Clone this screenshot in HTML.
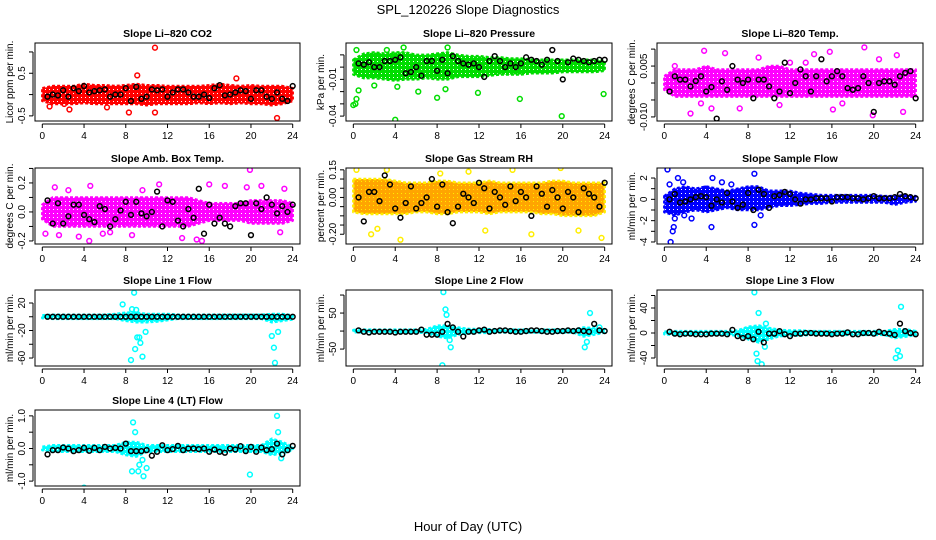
<!DOCTYPE html>
<html><head><meta charset="utf-8"><style>
html,body{margin:0;padding:0;background:#fff}
svg{display:block;font-family:"Liberation Sans",sans-serif}
</style></head><body>
<svg id="chart" width="936" height="540" viewBox="0 0 936 540">
<text x="468" y="14" font-size="13" text-anchor="middle">SPL_120226  Slope Diagnostics</text>
<text x="468" y="531" font-size="13" text-anchor="middle">Hour of Day (UTC)</text>
</svg>
<script>
// ---- data ----
const hours = [0,1,2,3,4,5,6,7,8,9,10,11,12,13,14,15,16,17,18,19,20,21,22,23,24];
const blackHours = [0.5,1,1.5,2,2.5,3,3.5,4,4.5,5,5.5,6,6.5,7,7.5,8,8.5,9,9.5,10,10.5,11,11.5,12,12.5,13,13.5,14,14.5,15,15.5,16,16.5,17,17.5,18,18.5,19,19.5,20,20.5,21,21.5,22,22.5,23,23.5,24];
const xTicks = [0,4,8,12,16,20,24];

const co2Upper = [0.15,0.2,0.2,0.2,0.25,0.22,0.22,0.2,0.22,0.25,0.22,0.22,0.2,0.2,0.2,0.2,0.22,0.25,0.22,0.2,0.22,0.2,0.2,0.2,0.15];
const co2Lower = [-0.15,-0.22,-0.22,-0.22,-0.2,-0.22,-0.22,-0.22,-0.22,-0.22,-0.25,-0.22,-0.22,-0.22,-0.22,-0.2,-0.22,-0.2,-0.22,-0.2,-0.22,-0.22,-0.25,-0.22,-0.15];
const co2Black = [-0.05,0,-0.02,0.1,-0.05,0.15,0.08,0.2,0.05,0.08,0.1,0.12,-0.05,0,0,0.15,-0.15,0.18,-0.1,-0.05,0.12,0.1,0.12,-0.05,0.05,0.12,0.12,0.05,-0.05,-0.05,0,-0.08,0.15,0.22,-0.02,0.0,0.05,0.1,0.08,-0.1,0.1,0.1,-0.05,-0.1,0.05,-0.1,-0.15,0.2];
const co2OutX = [10.8,9.1,18.6,22.5,0.7,2.6,8.3,10.8,6.2,2.1];
const co2OutY = [1.1,0.45,0.38,-0.55,-0.28,-0.35,-0.42,-0.42,-0.3,-0.22];

const presUpper = [0.006,0.011,0.012,0.011,0.012,0.012,0.01,0.01,0.011,0.012,0.01,0.009,0.009,0.008,0.008,0.007,0.007,0.006,0.006,0.006,0.006,0.006,0.006,0.006,0.005];
const presLower = [-0.006,-0.009,-0.009,-0.01,-0.011,-0.01,-0.01,-0.009,-0.01,-0.01,-0.008,-0.008,-0.008,-0.007,-0.006,-0.006,-0.006,-0.005,-0.005,-0.005,-0.004,-0.004,-0.004,-0.004,-0.003];
const presBlack = [0.003,0.002,0.004,0.0,0.0,0.005,0.005,0.006,0.008,-0.005,-0.004,0.0,-0.007,0.005,0.005,-0.003,0.006,-0.005,0.009,0.005,0.003,0.002,0.003,0.0,-0.008,0.005,0.009,0.005,0.0,0.003,0.0,0.003,0.008,0.006,0.005,0.002,0.006,0.014,0.005,-0.010,0.004,0.007,0.006,0.005,0.004,0.005,0.006,0.006];
const presOutX = [0,0.2,0.3,0.5,4,8,11.9,15.9,19.9,23.9,6.2,2,4.2,8.8,4.8,9,0.3,3.2];
const presOutY = [-0.031,-0.03,-0.026,-0.019,-0.043,-0.025,-0.021,-0.026,-0.040,-0.022,-0.020,-0.015,-0.016,-0.018,0.016,0.016,0.014,0.014];

const tempUpper = [0.002,0.004,0.004,0.004,0.005,0.004,0.004,0.004,0.004,0.004,0.005,0.005,0.004,0.004,0.004,0.004,0.004,0.004,0.004,0.004,0.004,0.004,0.004,0.004,0.004];
const tempLower = [-0.002,-0.004,-0.004,-0.004,-0.004,-0.004,-0.004,-0.004,-0.004,-0.004,-0.004,-0.004,-0.004,-0.004,-0.004,-0.004,-0.004,-0.004,-0.004,-0.004,-0.004,-0.004,-0.004,-0.004,-0.004];
const tempBlack = [-0.0025,0.002,0.001,0.001,-0.001,0.0006,0.002,-0.0025,-0.0012,-0.0105,0.0005,-0.002,0.005,0.001,0.0,0.001,-0.0045,0.001,0.001,-0.001,-0.0045,-0.0025,0.006,-0.003,0.0,0.004,0.002,-0.0025,0.002,0.007,0.0005,0.002,0.0035,0.002,-0.0015,-0.002,-0.0015,0.002,0.0,-0.0085,0.0,0.0005,0.0005,-0.0005,0.002,0.003,0.0035,-0.0045];
const tempOutX = [3.8,5.8,9,12,14.3,19.1,15.8,22.2,2.5,3.5,4.5,7.2,11,16.1,19.9,22.8,1,13.5,17,20.5];
const tempOutY = [0.0095,0.0088,0.0075,0.006,0.0085,0.0105,0.0092,0.0082,-0.009,-0.006,-0.0075,-0.0075,-0.0065,-0.0078,-0.0095,-0.0085,0.005,0.006,-0.006,0.007];

const boxUpper = [0.05,0.1,0.1,0.1,0.1,0.1,0.1,0.1,0.1,0.1,0.1,0.1,0.1,0.1,0.1,0.08,0.06,0.06,0.06,0.06,0.08,0.08,0.08,0.08,0.06];
const boxLower = [-0.05,-0.1,-0.1,-0.1,-0.1,-0.1,-0.1,-0.1,-0.1,-0.1,-0.1,-0.1,-0.1,-0.1,-0.1,-0.08,-0.06,-0.06,-0.06,-0.06,-0.08,-0.08,-0.08,-0.08,-0.06];
const boxBlack = [0.08,-0.08,0.06,-0.08,-0.03,0.05,0.05,-0.02,-0.05,-0.07,0.04,0.02,-0.1,-0.05,0.01,0.07,-0.02,0.07,-0.01,-0.03,0.0,0.14,-0.1,0.08,0.07,-0.06,-0.1,0.02,-0.04,0.16,-0.15,0.05,-0.08,-0.04,-0.08,-0.1,0.04,0.06,0.06,-0.16,0.06,0.02,0.1,0.05,-0.01,0.04,0.0,0.05];
const boxOutX = [0.3,1.2,1.6,2.5,3.5,4.6,5.8,6.5,8.6,11.2,13.4,14.8,15.3,16,17.5,19.6,19.9,21,22.8,23.2,4.5,9.6];
const boxOutY = [-0.15,0.17,-0.16,0.15,-0.17,0.18,-0.15,-0.14,-0.16,0.19,-0.18,-0.19,-0.2,0.19,0.18,0.17,0.29,0.18,-0.14,0.16,-0.2,0.15];

const rhUpper = [0.1,0.1,0.1,0.1,0.09,0.08,0.08,0.08,0.09,0.09,0.08,0.08,0.08,0.09,0.08,0.08,0.08,0.08,0.08,0.09,0.09,0.08,0.08,0.08,0.08];
const rhLower = [-0.08,-0.09,-0.09,-0.09,-0.09,-0.09,-0.08,-0.08,-0.09,-0.09,-0.08,-0.08,-0.08,-0.09,-0.08,-0.08,-0.08,-0.08,-0.09,-0.09,-0.1,-0.1,-0.1,-0.1,-0.08];
const rhBlack = [0.0,-0.13,0.03,0.03,-0.02,0.12,0.07,-0.06,-0.11,-0.03,0.06,-0.06,-0.03,0.0,0.1,-0.05,0.07,-0.08,-0.14,-0.05,0.02,0.0,-0.03,0.08,0.05,-0.06,0.03,0.0,-0.04,0.06,-0.02,0.03,0.0,-0.1,0.06,0.02,-0.05,0.04,0.0,-0.06,0.03,0.0,-0.08,0.05,0.02,0.0,-0.05,0.08];
const rhOutX = [0.3,1.7,2.3,4.5,3.2,8.3,11,12.6,15.2,17,19.8,21.5,23.7];
const rhOutY = [0.15,-0.2,-0.17,-0.23,0.15,0.13,0.14,-0.18,0.15,-0.2,0.16,-0.18,-0.22];

const sflowUpper = [0.3,1.0,1.2,1.0,1.2,1.0,0.8,1.0,1.2,1.2,0.8,0.8,0.8,0.6,0.5,0.4,0.4,0.4,0.4,0.4,0.4,0.3,0.3,0.4,0.3];
const sflowLower = [-1.2,-1.5,-1.2,-1.0,-1.2,-1.0,-0.8,-1.0,-1.0,-1.0,-0.8,-0.6,-0.6,-0.5,-0.4,-0.4,-0.3,-0.3,-0.3,-0.3,-0.3,-0.3,-0.5,-0.3,-0.2];
const sflowBlack = [0.0,0.5,-0.3,-0.2,0.0,0.2,0.3,0.2,-0.6,0.0,-0.3,0.6,-0.2,-0.8,-0.5,0.6,-1.0,0.9,0.5,-0.8,0.3,0.4,0.7,0.5,0.0,-0.4,0.0,0.0,0.1,0.1,0.1,-0.2,0.2,0.2,0.2,0.1,0.1,0.0,0.1,0.3,0.1,0.1,0.1,0.2,0.5,0.3,0.2,0.1];
const sflowOutX = [0.3,0.5,0.6,0.8,0.9,1.0,1.3,1.8,2.6,4.5,4.6,5.5,8.6,8.6,3.9,6.4,1.9,9.2];
const sflowOutY = [2.8,1.4,-4.0,-3.0,-2.6,-1.8,2.0,1.6,-1.8,-2.6,2.0,1.6,2.4,-2.4,1.0,1.4,-1.5,-1.5];

const l1Upper = [2,3,3,3,3,3,3,4,6,6,4,4,4,3,3,3,3,3,3,3,3,3,4,4,2];
const l1Lower = [-2,-3,-3,-3,-3,-3,-3,-3,-6,-8,-8,-7,-5,-3,-3,-3,-3,-3,-3,-3,-3,-3,-8,-6,-4];
const l1Black = [0,0,0,0,0,0,0,0,0,0,0,0,0,0,0,0,0,0,0,0,0,0,0,0,0,0,0,0,0,0,0,0,0,0,0,0,0,0,0,0,0,0,0,0,0,0,0,0];
const l1OutX = [8.8,7.7,8.5,8.9,9.1,9.4,9.6,8.6,9.3,9.0,9.9,22,22.2,22.3,22.6];
const l1OutY = [35,18,-63,-47,-30,-38,-58,11,-30,10,-22,-28,-45,-67,-22];

const l2Upper = [3,4,4,4,4,4,4,5,15,15,10,6,5,5,4,4,4,4,4,4,4,4,10,8,4];
const l2Lower = [-3,-4,-4,-4,-4,-4,-4,-5,-15,-20,-10,-6,-5,-5,-4,-4,-4,-4,-4,-4,-4,-4,-15,-10,-4];
const l2Black = [2,-2,-4,-2,-2,-2,-2,-4,-2,-2,-2,-2,4,-10,-10,-10,-2,20,10,-2,-15,-2,-2,2,4,-2,0,2,2,0,-2,-2,0,2,2,0,-2,-2,0,0,2,0,2,0,-2,20,2,0];
const l2OutX = [8.6,8.8,8.9,9.3,9.2,8.5,22.6,22.3,22.1,23.5];
const l2OutY = [108,60,45,-45,-25,-95,50,-30,-45,10];

const l3Upper = [2,3,3,3,3,3,3,4,10,12,8,5,4,4,3,3,3,3,3,3,3,3,6,6,3];
const l3Lower = [-2,-3,-3,-3,-3,-3,-3,-4,-10,-15,-10,-5,-4,-4,-3,-3,-3,-3,-3,-3,-3,-3,-8,-6,-3];
const l3Black = [2,-1,-2,-1,-1,-2,-2,-2,-1,-1,-1,-2,5,-5,-8,-5,-10,2,-15,-1,-1,3,-2,-5,-1,-1,0,0,-1,-1,-1,-2,-1,-1,1,-2,-2,0,0,-1,2,0,-1,-3,15,3,0,-2];
const l3OutX = [8.6,9.0,8.8,8.9,9.3,9.7,22.6,22.3,22.1,22.5,9.6];
const l3OutY = [65,32,-33,-45,-50,15,42,-28,-40,-37,-22];

const l4Upper = [0.05,0.1,0.1,0.1,0.1,0.1,0.1,0.1,0.2,0.2,0.1,0.1,0.1,0.1,0.1,0.1,0.1,0.1,0.1,0.1,0.1,0.1,0.3,0.2,0.05];
const l4Lower = [-0.05,-0.1,-0.1,-0.1,-0.1,-0.1,-0.1,-0.1,-0.2,-0.25,-0.1,-0.1,-0.1,-0.1,-0.1,-0.1,-0.1,-0.1,-0.1,-0.1,-0.1,-0.1,-0.2,-0.15,-0.05];
const l4Black = [-0.18,-0.05,-0.05,0.03,0.0,-0.08,-0.05,0.02,-0.07,0.02,-0.05,0.05,0.0,0.02,0.0,0.15,-0.08,-0.08,-0.08,-0.05,-0.22,-0.1,0.1,-0.05,-0.02,0.08,-0.05,0.0,0.0,-0.02,0.0,-0.1,-0.03,-0.1,-0.13,0.0,-0.03,0.07,-0.08,0.05,-0.1,0.03,-0.05,-0.02,0.15,-0.18,-0.05,0.08];
const l4OutX = [4,8.7,8.9,9.2,9.3,8.6,9.6,10,19.9,22.5,22.6,22.9,9.7];
const l4OutY = [-1.2,0.8,0.5,-0.7,-0.5,-0.7,-0.35,-0.6,-0.8,1.0,0.5,-0.3,-0.85];

// ---- layout ----
const panels = [
 {name:'co2',title:'Slope Li\u2013820 CO2',ylab:'Licor ppm per min.',x0:35,x1:300,y0:43,y1:121,ymin:-0.62,ymax:1.21,ticks:[-0.5,0,0.5,1.0],labels:['-0.5','','0.5',''],col:'#ff0000',up:co2Upper,lo:co2Lower,bk:co2Black,ox:co2OutX,oy:co2OutY},
 {name:'pressure',title:'Slope Li\u2013820 Pressure',ylab:'kPa per min.',x0:346,x1:612,y0:43,y1:121,ymin:-0.044,ymax:0.0197,ticks:[-0.04,-0.03,-0.02,-0.01,0,0.01],labels:['-0.04','','','-0.01','',''],col:'#00dd00',up:presUpper,lo:presLower,bk:presBlack,ox:presOutX,oy:presOutY},
 {name:'li820-temp',title:'Slope Li\u2013820 Temp.',ylab:'degrees C per min.',x0:657,x1:923,y0:43,y1:121,ymin:-0.0112,ymax:0.0118,ticks:[-0.01,-0.005,0,0.005,0.01],labels:['-0.010','','','0.005',''],col:'#ff00ff',up:tempUpper,lo:tempLower,bk:tempBlack,ox:tempOutX,oy:tempOutY},
 {name:'amb-box-temp',title:'Slope Amb. Box Temp.',ylab:'degrees C per min.',x0:35,x1:300,y0:168,y1:244,ymin:-0.221,ymax:0.303,ticks:[-0.2,-0.1,0,0.1,0.2,0.3],labels:['-0.2','','0.0','','0.2',''],col:'#ff00ff',up:boxUpper,lo:boxLower,bk:boxBlack,ox:boxOutX,oy:boxOutY},
 {name:'gas-stream-rh',title:'Slope Gas Stream RH',ylab:'percent per min.',x0:346,x1:612,y0:168,y1:244,ymin:-0.253,ymax:0.16,ticks:[-0.2,-0.15,-0.1,-0.05,0,0.05,0.1,0.15],labels:['-0.20','','','','0.00','','','0.15'],col:'#ffa500',stroke:'#ffee00',up:rhUpper,lo:rhLower,bk:rhBlack,ox:rhOutX,oy:rhOutY},
 {name:'sample-flow',title:'Slope Sample Flow',ylab:'ml/min per min.',x0:657,x1:923,y0:168,y1:244,ymin:-4.19,ymax:2.94,ticks:[-4,-3,-2,-1,0,1,2],labels:['-4','','-2','','0','','2'],col:'#0000ff',up:sflowUpper,lo:sflowLower,bk:sflowBlack,ox:sflowOutX,oy:sflowOutY},
 {name:'line1-flow',title:'Slope Line 1 Flow',ylab:'ml/min per min.',x0:35,x1:300,y0:290,y1:366,ymin:-71.6,ymax:38.9,ticks:[-60,-40,-20,0,20],labels:['-60','','-20','','20'],col:'#00ffff',up:l1Upper,lo:l1Lower,bk:l1Black,ox:l1OutX,oy:l1OutY},
 {name:'line2-flow',title:'Slope Line 2 Flow',ylab:'ml/min per min.',x0:346,x1:612,y0:290,y1:366,ymin:-97,ymax:114,ticks:[-100,-50,0,50,100],labels:['','-50','','50',''],col:'#00ffff',up:l2Upper,lo:l2Lower,bk:l2Black,ox:l2OutX,oy:l2OutY},
 {name:'line3-flow',title:'Slope Line 3 Flow',ylab:'ml/min per min.',x0:657,x1:923,y0:290,y1:366,ymin:-52.8,ymax:68.8,ticks:[-40,-20,0,20,40,60],labels:['-40','','0','','40',''],col:'#00ffff',up:l3Upper,lo:l3Lower,bk:l3Black,ox:l3OutX,oy:l3OutY},
 {name:'line4-flow',title:'Slope Line 4 (LT) Flow',ylab:'ml/min per min.',x0:35,x1:300,y0:410,y1:486,ymin:-1.15,ymax:1.18,ticks:[-1,-0.5,0,0.5,1],labels:['-1.0','','0.0','','1.0'],col:'#00ffff',up:l4Upper,lo:l4Lower,bk:l4Black,ox:l4OutX,oy:l4OutY}
];
const NS='http://www.w3.org/2000/svg';
const svg=document.getElementById('chart');
function mk(tag,attrs,parent){const e=document.createElementNS(NS,tag);for(const k in attrs)e.setAttribute(k,attrs[k]);(parent||svg).appendChild(e);return e;}
const defs=mk('defs',{});

panels.forEach(p=>{
  const g=mk('g',{});
  
  
  const xmin=-0.7,xmax=24.7;
  const sx=v=>p.x0+(v-xmin)/(xmax-xmin)*(p.x1-p.x0);
  const sy=v=>p.y1-(v-p.ymin)/(p.ymax-p.ymin)*(p.y1-p.y0);
  const clip='clip-'+p.name;
  const cp=mk('clipPath',{id:clip},defs);mk('rect',{x:p.x0,y:p.y0,width:p.x1-p.x0,height:p.y1-p.y0},cp);
  const pat=mk('pattern',{id:'pat-'+p.name,width:4,height:4,patternUnits:'userSpaceOnUse'},defs);
  mk('rect',{x:0,y:0,width:4,height:4,fill:p.col},pat);
  mk('rect',{x:1,y:1,width:1,height:1,fill:p.stroke||'#fff'},pat);
  const plot=mk('g',{'clip-path':'url(#'+clip+')'},g);
  let pts=hours.map((h,i)=>sx(h)+','+sy(p.up[i]));
  pts=pts.concat(hours.slice().reverse().map((h,j)=>{const i=hours.length-1-j;return sx(h)+','+sy(p.lo[i]);}));
  const band=mk('polygon',{points:pts.join(' '),fill:'url(#pat-'+p.name+')',stroke:p.stroke||p.col,'stroke-width':2.5,'stroke-dasharray':'3 2','stroke-linejoin':'round'},plot);
  
  
  p.ox.forEach((x,i)=>{
    const c=mk('circle',{cx:sx(x),cy:sy(p.oy[i]),r:2.4,fill:'none',stroke:p.stroke||p.col,'stroke-width':1.5},plot);
    
    
  });
  blackHours.forEach((x,i)=>{
    const c=mk('circle',{cx:sx(x),cy:sy(p.bk[i]),r:2.4,fill:'none',stroke:'#000','stroke-width':1.5},plot);
    
    
  });
  const box=mk('rect',{x:p.x0,y:p.y0,width:p.x1-p.x0,height:p.y1-p.y0,fill:'none',stroke:'#000','stroke-width':1},g);
  
  
  const t=mk('text',{x:(p.x0+p.x1)/2,y:p.y0-6,'font-size':10.5,'font-weight':'bold','text-anchor':'middle'},g);
  t.textContent=p.title;
  
  
  const xa=mk('g',{},g);
  
  
  const ay=p.y1+3;
  mk('line',{x1:sx(0),x2:sx(24),y1:ay,y2:ay,stroke:'#000'},xa);
  xTicks.forEach(v=>{
    mk('line',{x1:sx(v),x2:sx(v),y1:ay,y2:ay+4,stroke:'#000'},xa);
    const l=mk('text',{x:sx(v),y:ay+15,'font-size':10,'text-anchor':'middle'},xa);l.textContent=v;
  });
  const ya=mk('g',{},g);
  
  
  const ax=p.x0-2;
  const tv=p.ticks.filter(v=>v>=p.ymin&&v<=p.ymax);
  mk('line',{x1:ax,x2:ax,y1:sy(Math.min(...tv)),y2:sy(Math.max(...tv)),stroke:'#000'},ya);
  p.ticks.forEach((v,i)=>{
    if(v<p.ymin||v>p.ymax)return;
    mk('line',{x1:ax-4,x2:ax,y1:sy(v),y2:sy(v),stroke:'#000'},ya);
    if(p.labels[i]){const l=mk('text',{x:ax-8,y:sy(v),'font-size':10,'text-anchor':'middle',transform:'rotate(-90 '+(ax-8)+' '+sy(v)+')'},ya);l.textContent=p.labels[i];}
  });
  const yl=mk('text',{x:p.x0-22,y:(p.y0+p.y1)/2,'font-size':10,'text-anchor':'middle',transform:'rotate(-90 '+(p.x0-22)+' '+(p.y0+p.y1)/2+')'},g);
  yl.textContent=p.ylab;
  
  
});
</script>
</body></html>
